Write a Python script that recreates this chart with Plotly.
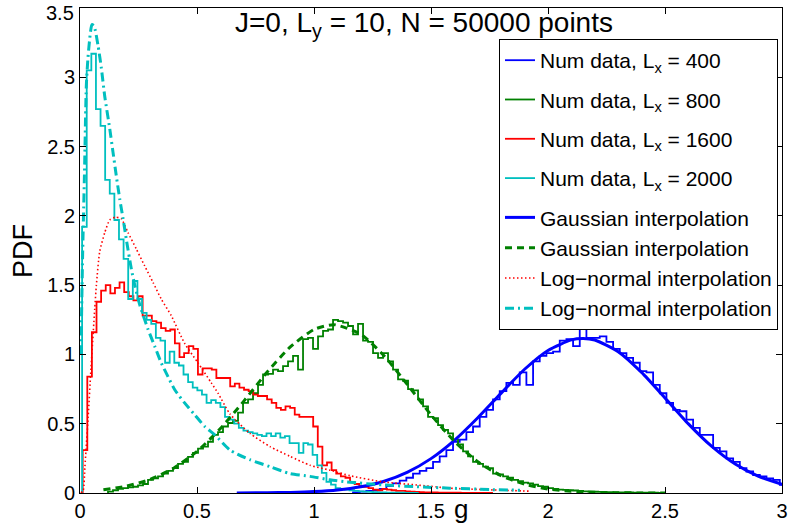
import numpy as np
import plotly.graph_objects as go

# ---------------- data ----------------
# Histograms (step curves): first bin edge, bin width, bin heights
cyan_start, cyan_width = 0.009, 0.0197
cyan_vals = [1.92, 3.05, 3.17, 2.77, 2.65, 2.26, 2.16, 1.97, 1.83, 1.69, 1.40, 1.53, 1.40, 1.30, 1.25,
             1.22, 1.12, 1.10, 0.94, 1.02, 0.94, 0.92, 0.855, 0.80, 0.76, 0.74, 0.71, 0.65, 0.67, 0.65,
             0.62, 0.55, 0.53, 0.50, 0.47, 0.45, 0.44, 0.43, 0.42, 0.41, 0.43, 0.41, 0.43, 0.40, 0.41,
             0.36, 0.36, 0.29, 0.36, 0.35, 0.275, 0.20, 0.145, 0.08, 0.06, 0.035, 0.03, 0.025, 0.02,
             0.015, 0.012, 0.01, 0.008, 0.006, 0.005, 0.004, 0.003, 0.003, 0.002, 0.002, 0.001, 0.001, 0.0]

red_start, red_width = 0.0115, 0.0197
red_vals = [0.31, 0.84, 1.16, 1.38, 1.46, 1.50, 1.44, 1.48, 1.52, 1.45, 1.42, 1.39, 1.42, 1.28, 1.28,
            1.24, 1.23, 1.19, 1.17, 1.18, 1.08, 0.98, 1.01, 1.06, 1.04, 0.855, 0.90, 0.90, 0.89, 0.83,
            0.83, 0.83, 0.77, 0.79, 0.76, 0.745, 0.735, 0.71, 0.70, 0.70, 0.675, 0.65, 0.615, 0.60,
            0.625, 0.615, 0.565, 0.55, 0.55, 0.55, 0.48, 0.335, 0.20, 0.22, 0.165, 0.14, 0.12, 0.11,
            0.08, 0.065, 0.05, 0.045, 0.035, 0.025, 0.02, 0.03, 0.025, 0.02, 0.015, 0.015, 0.012, 0.01,
            0.008, 0.006, 0.005, 0.005, 0.004, 0.003, 0.003, 0.002, 0.002, 0.002, 0.001, 0.001, 0.001,
            0.001, 0.001, 0.001, 0.0]

green_start, green_width = 0.1197, 0.02137
green_vals = [0.01, 0.02, 0.03, 0.035, 0.04, 0.045, 0.055, 0.065, 0.095, 0.105, 0.12, 0.14, 0.16, 0.18,
              0.21, 0.225, 0.26, 0.29, 0.32, 0.335, 0.37, 0.42, 0.44, 0.48, 0.505, 0.52, 0.58, 0.65,
              0.675, 0.72, 0.78, 0.855, 0.86, 0.89, 0.88, 0.915, 0.95, 0.99, 0.89, 1.11, 1.12, 1.04,
              1.13, 1.17, 1.18, 1.25, 1.24, 1.23, 1.205, 1.145, 1.22, 1.10, 1.09, 1.01, 0.975, 1.01,
              0.95, 0.89, 0.82, 0.81, 0.75, 0.74, 0.675, 0.625, 0.55, 0.54, 0.49, 0.455, 0.43, 0.385,
              0.35, 0.30, 0.265, 0.225, 0.21, 0.19, 0.18, 0.14, 0.135, 0.12, 0.11, 0.095, 0.085, 0.075,
              0.07, 0.06, 0.05, 0.045, 0.035, 0.03, 0.025, 0.022, 0.02, 0.018, 0.015, 0.012, 0.01,
              0.009, 0.008, 0.007, 0.006, 0.005, 0.005, 0.004, 0.004, 0.003, 0.003, 0.002, 0.002,
              0.002, 0.001]

blue_start, blue_width = 1.1667, 0.0285
blue_vals = [0.005, 0.01, 0.015, 0.02, 0.03, 0.05, 0.07, 0.09, 0.11, 0.14, 0.16, 0.18, 0.225, 0.265,
             0.31, 0.37, 0.385, 0.44, 0.48, 0.55, 0.60, 0.675, 0.735, 0.795, 0.78, 0.87, 0.78, 0.95,
             0.99, 1.01, 1.02, 1.10, 1.11, 1.06, 1.19, 1.12, 1.12, 1.13, 1.09, 1.04, 1.01, 0.975, 0.94,
             0.88, 0.87, 0.78, 0.72, 0.65, 0.60, 0.59, 0.53, 0.47, 0.42, 0.42, 0.325, 0.30, 0.25, 0.225,
             0.18, 0.155, 0.13, 0.12, 0.105, 0.095, 0.058, 0.05, 0.04]

# Fitted curves
blue_fit_g = [0.67, 0.8, 0.9, 1.0, 1.1, 1.2, 1.3, 1.4, 1.5, 1.6, 1.7, 1.8, 1.9, 2.0, 2.1, 2.15,
              2.2, 2.3, 2.4, 2.5, 2.6, 2.7, 2.8, 2.9, 3.0]
blue_fit_v = [0.0004, 0.0017, 0.0043, 0.0101, 0.022, 0.045, 0.085, 0.151, 0.248, 0.380, 0.543, 0.721,
              0.893, 1.029, 1.105, 1.115, 1.104, 1.020, 0.870, 0.686, 0.499, 0.336, 0.209, 0.120, 0.0635]

green_fit_g = [0.1, 0.2, 0.3, 0.4, 0.5, 0.6, 0.7, 0.8, 0.9, 1.0, 1.085, 1.2, 1.3, 1.4, 1.5, 1.6,
               1.7, 1.8, 1.9, 2.0, 2.1, 2.2, 2.3, 2.4, 2.5]
green_fit_v = [0.023, 0.050, 0.098, 0.179, 0.30, 0.465, 0.663, 0.873, 1.056, 1.18, 1.215, 1.146, 0.989,
               0.781, 0.564, 0.373, 0.225, 0.125, 0.063, 0.029, 0.012, 0.005, 0.0017, 0.0006, 0.0002]

red_fit_g = [0.004, 0.014, 0.021, 0.035, 0.047, 0.063, 0.070, 0.084, 0.106, 0.127, 0.151, 0.176, 0.205,
             0.241, 0.276, 0.312, 0.347, 0.390, 0.447, 0.504, 0.561, 0.590, 0.641, 0.726, 0.812, 0.897,
             0.983, 1.068, 1.154, 1.295, 1.44, 1.58, 1.72, 1.89, 1.92]
red_fit_v = [0.0, 0.02, 0.19, 0.55, 0.90, 1.33, 1.50, 1.74, 1.88, 1.97, 1.99, 1.98, 1.88, 1.76, 1.64,
             1.52, 1.40, 1.28, 1.08, 0.94, 0.795, 0.72, 0.57, 0.43, 0.335, 0.265, 0.20, 0.165, 0.125,
             0.08, 0.058, 0.035, 0.025, 0.015, 0.013]

cyan_fit_g = [0.004, 0.011, 0.019, 0.027, 0.034, 0.043, 0.051, 0.060, 0.077, 0.091, 0.106, 0.127, 0.141,
              0.155, 0.170, 0.184, 0.198, 0.219, 0.234, 0.255, 0.291, 0.319, 0.347, 0.376, 0.405, 0.447,
              0.490, 0.533, 0.576, 0.641, 0.726, 0.812, 0.897, 0.983, 1.068, 1.14, 1.295, 1.44, 1.58,
              1.75, 1.88]
cyan_fit_v = [1.0, 1.7, 2.3, 2.94, 3.14, 3.30, 3.38, 3.37, 3.23, 3.07, 2.86, 2.63, 2.46, 2.29, 2.12, 1.98,
              1.83, 1.62, 1.50, 1.36, 1.18, 1.06, 0.94, 0.84, 0.745, 0.65, 0.565, 0.48, 0.42, 0.31, 0.24,
              0.19, 0.14, 0.12, 0.095, 0.08, 0.058, 0.045, 0.035, 0.025, 0.02]

hist_names = ["Num data, L<sub>x</sub> = 400", "Num data, L<sub>x</sub> = 800",
              "Num data, L<sub>x</sub> = 1600", "Num data, L<sub>x</sub> = 2000"]
fit_names = ["Gaussian interpolation", "Gaussian interpolation",
             "Log\u2212normal interpolation", "Log\u2212normal interpolation"]

x_ticks = [0, 0.5, 1, 1.5, 2, 2.5, 3]
y_ticks = [0, 0.5, 1, 1.5, 2, 2.5, 3, 3.5]
y_top_label = "3.5"

# ---------------- styling ----------------
BLUE, GREEN, RED, CYAN = "#0000ff", "#008000", "#ff0000", "#00bfbf"
FONT = "Arial, Liberation Sans, Helvetica, sans-serif"


def stair(start, width, vals):
    edges = start + width * np.arange(len(vals) + 1)
    xs = np.concatenate([[edges[0]], edges])
    ys = np.concatenate([[0.0], vals, [vals[-1]]])
    return xs, ys


fig = go.Figure()
hist_sets = [(blue_start, blue_width, blue_vals, BLUE), (green_start, green_width, green_vals, GREEN),
             (red_start, red_width, red_vals, RED), (cyan_start, cyan_width, cyan_vals, CYAN)]
for i, (s, w, v, c) in enumerate(hist_sets):
    xs, ys = stair(s, w, v)
    fig.add_trace(go.Scatter(x=xs, y=ys, mode="lines", line=dict(color=c, width=1.8, shape="hv"),
                             name=hist_names[i], legendgroup="g%d" % i))

fit_sets = [(blue_fit_g, blue_fit_v, BLUE, "solid", 3),
            (green_fit_g, green_fit_v, GREEN, "7px,5px", 3),
            (red_fit_g, red_fit_v, RED, "1.5px,2.5px", 1.6),
            (cyan_fit_g, cyan_fit_v, CYAN, "9px,4px,2px,4px", 3)]
for i, (g, v, c, d, lw) in enumerate(fit_sets):
    fig.add_trace(go.Scatter(x=g, y=v, mode="lines",
                             line=dict(color=c, width=lw, dash=d, shape="spline", smoothing=0.6),
                             name=fit_names[i], legendgroup="fits"))

axis_common = dict(showline=True, linecolor="black", linewidth=1, mirror="ticks", ticks="inside",
                   ticklen=6, tickcolor="black", showgrid=False, zeroline=False, automargin=False,
                   tickfont=dict(family=FONT, size=20, color="black"))
fig.update_xaxes(range=[0, 3], tickvals=x_ticks, ticktext=[f"{t:g}" for t in x_ticks], **axis_common)
# the top label (3.5) is drawn as an annotation just below the axis top, as in the reference
fig.update_yaxes(range=[0, 3.5], tickvals=y_ticks,
                 ticktext=[f"{t:g}" if t != 3.5 else "" for t in y_ticks], **axis_common)
fig.add_annotation(text=y_top_label, x=0, xref="paper", xanchor="right", xshift=-4,
                   y=3.5, yref="y", yanchor="middle", yshift=-5, showarrow=False,
                   font=dict(family=FONT, size=20, color="black"))

fig.add_annotation(text="J=0, L<sub>y</sub> = 10, N = 50000 points", x=1.47, xref="x",
                   y=0.965, yref="paper", showarrow=False, xanchor="center", yanchor="middle",
                   font=dict(family=FONT, size=28, color="black"))
fig.add_annotation(text="g", x=1.63, xref="x", y=-0.034, yref="paper", showarrow=False,
                   xanchor="center", yanchor="middle", font=dict(family=FONT, size=26, color="black"))
fig.add_annotation(text="PDF", x=-0.082, xref="paper", y=0.5, yref="paper", showarrow=False,
                   textangle=-90, xanchor="center", yanchor="middle",
                   font=dict(family=FONT, size=27, color="black"))

fig.update_layout(
    width=792, height=529,
    margin=dict(l=80, r=10, t=8, b=36),
    plot_bgcolor="white", paper_bgcolor="white",
    showlegend=True,
    legend=dict(x=0.9943, y=0.936, xanchor="right", yanchor="top", bgcolor="white",
                bordercolor="black", borderwidth=1, tracegroupgap=9, traceorder="grouped",
                font=dict(family=FONT, size=21, color="black"), itemwidth=30),
)

fig.write_html("out.html", config={"displayModeBar": False},
               post_script="document.body.style.margin='0px';")
